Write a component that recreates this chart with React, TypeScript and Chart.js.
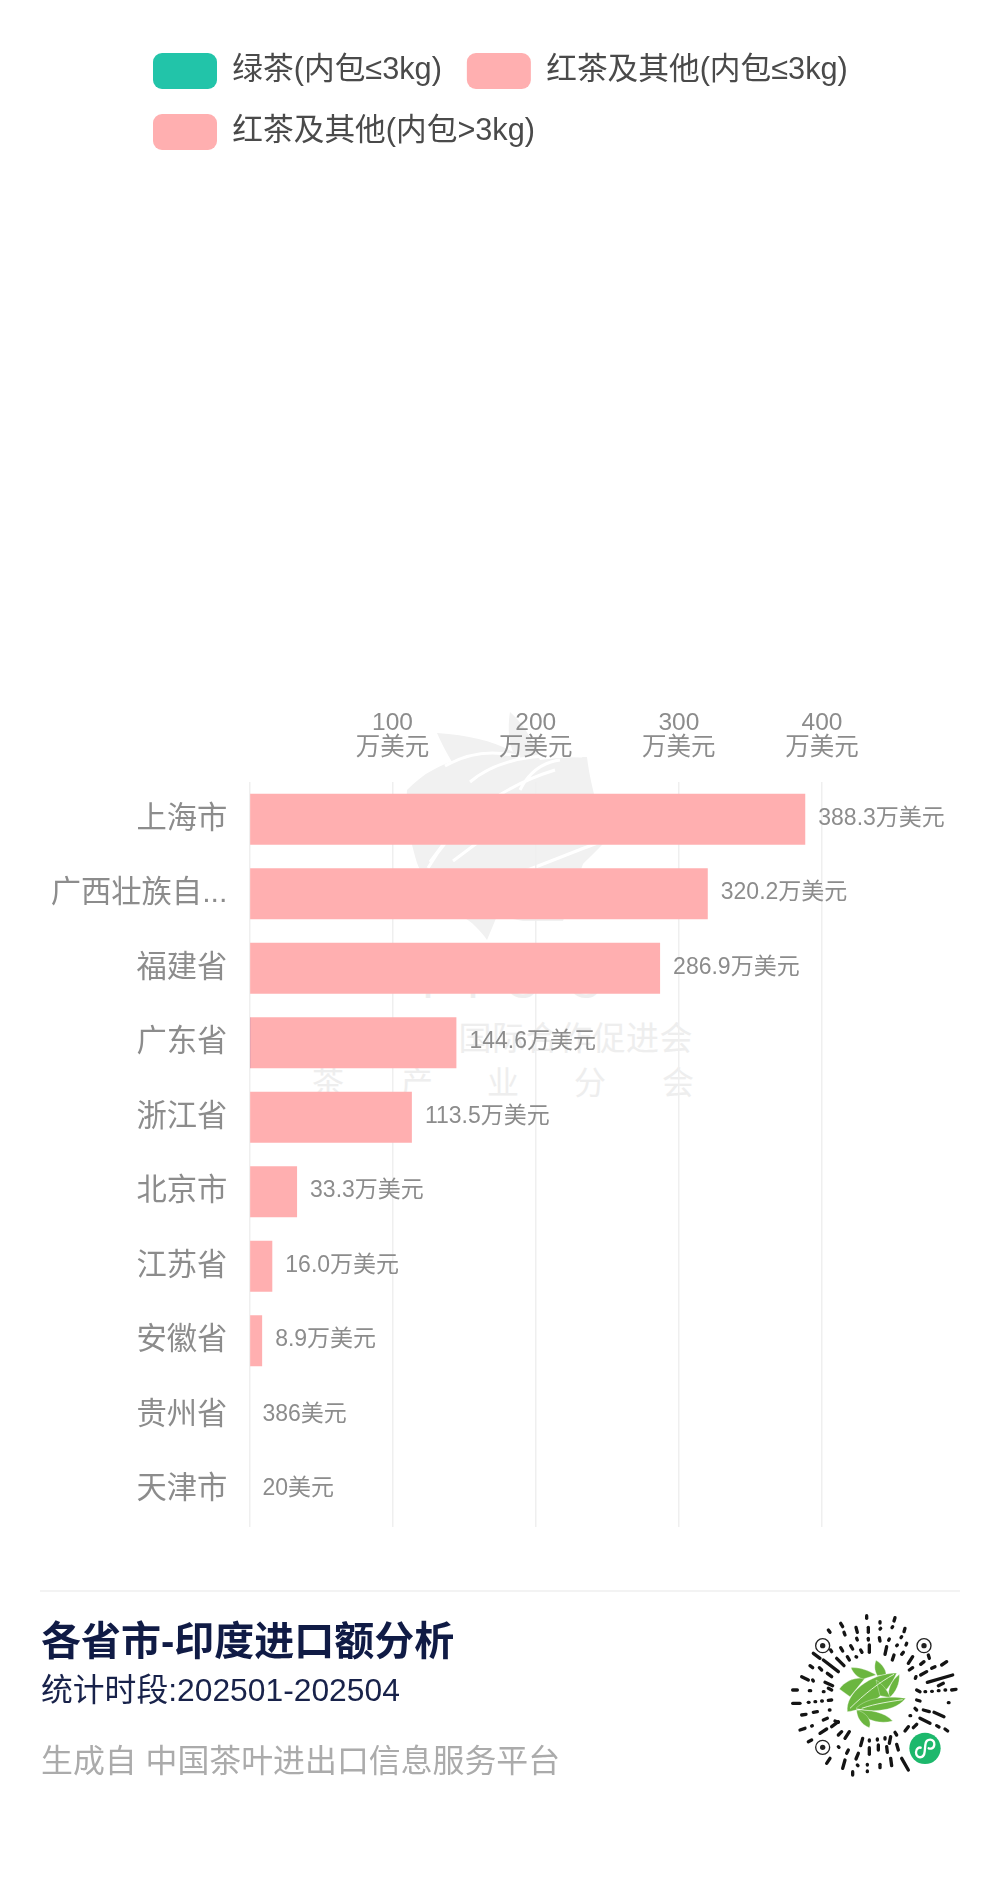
import React, { useEffect, useRef } from "react";
import { Chart, registerables } from "chart.js";

Chart.register(...registerables);

const FONT = '"Liberation Sans", "Noto Sans CJK SC", sans-serif';

const provinces = ["上海市", "广西壮族自治区", "福建省", "广东省", "浙江省", "北京市", "江苏省", "安徽省", "贵州省", "天津市"];
const greenTea = [0, 0, 0, 0, 0, 0, 0, 0, 0, 0];
const blackTeaSmall = [0, 0, 0, 1.0, 0, 0, 0, 0, 0, 0];
const blackTeaLarge = [388.3, 320.2, 286.9, 143.6, 113.5, 33.3, 16.0, 8.9, 0.0386, 0.002];
const axisTicks = [0, 100, 200, 300, 400];
const legendNames = ["绿茶(内包≤3kg)", "红茶及其他(内包≤3kg)", "红茶及其他(内包>3kg)"];

const GREEN = "#22C4A9";
const PINK = "#FFAFB0";
const SLIVER = "#E58595";
const GREY = "#8C8C8C";

const shortName = (s: string) => (s.length > 5 ? s.slice(0, 5) + "..." : s);
const formatTotal = (v: number) => (v >= 1 ? v.toFixed(1) + "万美元" : Math.round(v * 10000) + "美元");

const totalLabels = {
  id: "totalLabels",
  afterDatasetsDraw(chart: any) {
    const { ctx, scales } = chart;
    ctx.save();
    ctx.font = `23px ${FONT}`;
    ctx.fillStyle = GREY;
    ctx.textAlign = "left";
    ctx.textBaseline = "middle";
    provinces.forEach((_, i) => {
      const total = greenTea[i] + blackTeaSmall[i] + blackTeaLarge[i];
      ctx.fillText(formatTotal(total), scales.x.getPixelForValue(total) + 13, scales.y.getPixelForValue(i) - 1);
    });
    ctx.restore();
  },
};

const legendPlacer = {
  id: "legendPlacer",
  afterLayout(chart: any) {
    const l = chart.legend;
    l.left = 128;
    l.right = 1000;
    l.top = 28;
    l.bottom = 200;
  },
};

const qrStrokes: number[][] = [
  [290,62,290,70],[330,80,330,84],[375,68,372,78],[212,85,218,95],[258,97,262,112],[295,97,295,112],[332,100,330,102],[368,95,366,98],[405,100,402,110],
  [175,105,180,112],[222,112,225,120],[260,130,262,135],[295,130,295,135],[328,128,330,138],[358,132,356,136],[395,125,393,128],
  [298,150,298,172],[350,155,345,178],[212,158,218,168],[242,152,248,162],[272,165,276,172],[382,150,380,152],[410,145,408,150],
  [130,175,150,190],[182,165,185,170],[160,195,205,230],[200,190,222,212],[232,185,238,195],[258,185,260,186],[372,180,367,195],[400,172,395,178],[428,185,415,205],
  [120,212,128,218],[148,218,155,225],[172,235,185,245],[475,180,478,190],[462,200,452,208],[495,215,485,220],[530,200,515,210],[428,218,418,225],[470,230,452,240],[548,240,472,262],
  [95,245,115,255],[128,255,130,258],[165,262,188,272],[438,245,436,250],[520,265,505,272],
  [68,285,82,285],[118,287,122,287],[160,290,162,290],[185,285,175,280],[465,290,467,290],[485,289,487,289],[505,287,507,287],[525,285,527,285],[545,285,558,283],[440,285,450,290],
  [68,325,90,325],[115,322,117,322],[135,320,137,320],[155,318,157,318],[175,316,185,315],[440,315,450,318],[535,323,537,323],
  [95,360,108,358],[130,352,142,350],[178,345,180,345],[435,340,440,345],[460,345,478,350],[492,352,522,365],[160,375,172,370],[195,378,205,382],
  [90,405,105,400],[125,393,127,392],[150,415,170,402],[185,395,205,380],[450,370,480,385],[420,362,422,362],[500,392,507,396],[525,402,533,408],
  [205,420,215,410],[225,430,238,410],[380,420,375,412],[405,408,415,395],[430,398,440,388],[115,440,125,435],[278,430,272,452],[298,435,298,438],[322,432,322,435],[345,428,345,432],[362,425,358,445],
  [180,490,170,505],[205,455,207,457],[235,465,230,475],[265,475,258,492],[298,458,298,478],[325,450,325,465],[350,455,352,472],[380,448,385,465],
  [225,495,218,520],[262,510,264,512],[292,508,292,510],[292,528,292,530],[330,508,330,518],[362,490,365,512],[395,490,415,525],[248,530,248,540],
];
const qrFinders = [[158, 152], [462, 152], [158, 457]];
const qrLeaves = [
  "M232,350 C225,295 300,235 380,234 C355,295 290,345 232,350Z",
  "M208,282 C225,258 255,246 285,250 L240,305Z",
  "M243,218 C275,216 305,232 318,240 L280,252 C262,248 248,232 243,218Z",
  "M318,196 C338,208 348,225 348,238 L322,242 C312,225 313,210 318,196Z",
  "M388,238 C390,265 378,292 358,308 C350,285 365,256 388,238Z",
  "M318,255 C340,268 358,295 360,308 L330,302Z",
  "M258,340 C290,306 360,302 407,310 C378,348 310,354 258,340Z",
  "M260,345 C300,345 342,350 368,378 C330,388 290,378 260,345Z",
  "M260,345 C285,350 308,375 298,398 C272,388 260,365 260,345Z",
];

const abs = (left: number, top: number, extra: React.CSSProperties = {}): React.CSSProperties => ({
  position: "absolute",
  left,
  top,
  fontFamily: FONT,
  whiteSpace: "pre",
  lineHeight: 1,
  ...extra,
});

export default function App() {
  const ref = useRef<HTMLCanvasElement>(null);

  useEffect(() => {
    const hideTiny = (c: any) => (c.raw < 0.5 ? "rgba(0,0,0,0)" : PINK);
    const chart = new Chart(ref.current as HTMLCanvasElement, {
      type: "bar",
      data: {
        labels: provinces,
        datasets: [
          { label: legendNames[0], data: greenTea, backgroundColor: GREEN, borderWidth: 0 },
          {
            label: legendNames[1],
            data: blackTeaSmall,
            backgroundColor: (c: any) => (c.dataIndex === 3 ? SLIVER : PINK),
            borderWidth: 0,
          },
          { label: legendNames[2], data: blackTeaLarge, backgroundColor: hideTiny, borderWidth: 0 },
        ],
      },
      plugins: [totalLabels, legendPlacer],
      options: {
        indexAxis: "y",
        responsive: false,
        animation: false,
        devicePixelRatio: 1,
        layout: { padding: { top: 0, right: 178, bottom: 371, left: 0 } },
        datasets: { bar: { barPercentage: 0.6875, categoryPercentage: 1 } },
        plugins: {
          tooltip: { enabled: false },
          legend: {
            position: "top",
            align: "start",
            labels: {
              boxWidth: 64,
              boxHeight: 36,
              padding: 25,
              useBorderRadius: true,
              borderRadius: 9,
              color: "#4A4A4A",
              font: { family: FONT, size: 30.7 },
            },
          },
        },
        scales: {
          x: {
            type: "linear",
            position: "top",
            stacked: true,
            min: axisTicks[0],
            max: axisTicks[axisTicks.length - 1],
            afterFit: (s: any) => {
              s.height = 650;
            },
            grid: { color: "#EFEFEF", lineWidth: 1.5, drawTicks: false },
            border: { display: false },
            ticks: {
              stepSize: 100,
              padding: 21,
              maxRotation: 0,
              autoSkip: false,
              color: GREY,
              font: { family: FONT, size: 24.5, lineHeight: 1.02 },
              callback: (v: any) => (v === 0 ? "" : [String(v), "万美元"]),
            },
          },
          y: {
            stacked: true,
            afterFit: (s: any) => {
              s.width = 249.4;
            },
            grid: { display: false, drawTicks: false },
            border: { display: false },
            ticks: {
              padding: 22,
              color: GREY,
              font: { family: FONT, size: 30.3 },
              autoSkip: false,
              callback(this: any, v: any) {
                return shortName(this.getLabelForValue(v));
              },
            },
          },
        },
      } as any,
    });
    return () => chart.destroy();
  }, []);

  return (
    <div style={{ position: "absolute", left: 0, top: 0, width: 1000, height: 1898, background: "#fff", overflow: "hidden" }}>
      {/* faint watermark behind the chart */}
      <svg width={1000} height={1898} style={{ position: "absolute", left: 0, top: 0 }}>
        <path
          d="M437,733 C470,735 495,742 513,752 C508,740 508,725 510,712 C528,728 534,745 540,760 C555,758 570,757 587,757 C590,785 600,815 607,840 C597,850 590,857 583,864 C575,885 570,905 563,921 C545,921 535,921 523,921 L497,916 L487,940 C480,930 472,922 463,917 C440,900 425,885 417,863 C410,840 405,815 407,790 C415,782 423,775 433,770 C440,766 446,763 452,762 C446,752 441,742 437,733 Z"
          fill="#F1F1F1"
        />
        <path
          d="M445,766 C470,752 495,750 520,757 M470,782 C490,765 525,752 582,756 M520,790 C530,770 545,762 560,760 M453,861 L477,843 M430,862 L445,842 M500,880 C530,870 565,855 600,842 M428,868 C450,830 490,790 555,770"
          stroke="#fff"
          strokeWidth={3}
          fill="none"
        />
        <g fill="#EEEEEE" fontFamily={FONT}>
          <text x={414} y={998} fontSize={46}>T</text>
          <text x={459} y={998} fontSize={46}>T</text>
          <text x={505} y={998} fontSize={46}>C</text>
          <text x={568} y={998} fontSize={46}>C</text>
          <text x={693} y={1050} fontSize={33} textAnchor="end" letterSpacing={0.5}>国际合作促进会</text>
          <text x={328} y={1094} fontSize={32} textAnchor="middle">茶</text>
          <text x={417} y={1094} fontSize={32} textAnchor="middle">产</text>
          <text x={503} y={1094} fontSize={32} textAnchor="middle">业</text>
          <text x={590} y={1094} fontSize={32} textAnchor="middle">分</text>
          <text x={678} y={1094} fontSize={32} textAnchor="middle">会</text>
        </g>
      </svg>

      <canvas ref={ref} width={1000} height={1898} style={{ position: "absolute", left: 0, top: 0, display: "block" }} />

      {/* footer */}
      <div style={{ position: "absolute", left: 40, top: 1590, width: 920, height: 2, background: "#F3F3F3" }} />
      <div style={abs(41, 1621, { fontSize: 40, fontWeight: 700, color: "#101B45" })}>各省市-印度进口额分析</div>
      <div style={abs(41, 1675, { fontSize: 31.8, color: "#18224A" })}>统计时段:202501-202504</div>
      <div style={abs(41, 1746, { fontSize: 31.9, color: "#ABABAB" })}>生成自 中国茶叶进出口信息服务平台</div>

      {/* mini-program code */}
      <svg viewBox="0 0 600 600" width={200} height={200} style={{ position: "absolute", left: 770, top: 1595 }}>
        <g stroke="#141414" strokeWidth={10} strokeLinecap="round" fill="none">
          {qrStrokes.map((p, i) => (
            <line key={i} x1={p[0]} y1={p[1]} x2={p[2]} y2={p[3]} />
          ))}
        </g>
        {qrFinders.map((p, i) => (
          <g key={i}>
            <circle cx={p[0]} cy={p[1]} r={21} fill="none" stroke="#222" strokeWidth={4} />
            <circle cx={p[0]} cy={p[1]} r={8} fill="#222" />
          </g>
        ))}
        {qrLeaves.map((d, i) => (
          <path key={i} d={d} fill="#6BB63F" stroke="#fff" strokeWidth={1} />
        ))}
        <path d="M240,340 C280,300 330,260 372,238 M275,340 C320,325 360,320 398,314" stroke="#DDF0CF" strokeWidth={3} fill="none" />
        <circle cx={465} cy={460} r={47} fill="#1DB86C" />
        <path
          d="M438,472 C438,492 462,492 464,470 L466,450 C468,428 494,430 493,448 C492,462 480,462 476,460 M452,458 C448,456 438,460 438,472"
          stroke="#fff"
          strokeWidth={7}
          fill="none"
          strokeLinecap="round"
        />
      </svg>
    </div>
  );
}
